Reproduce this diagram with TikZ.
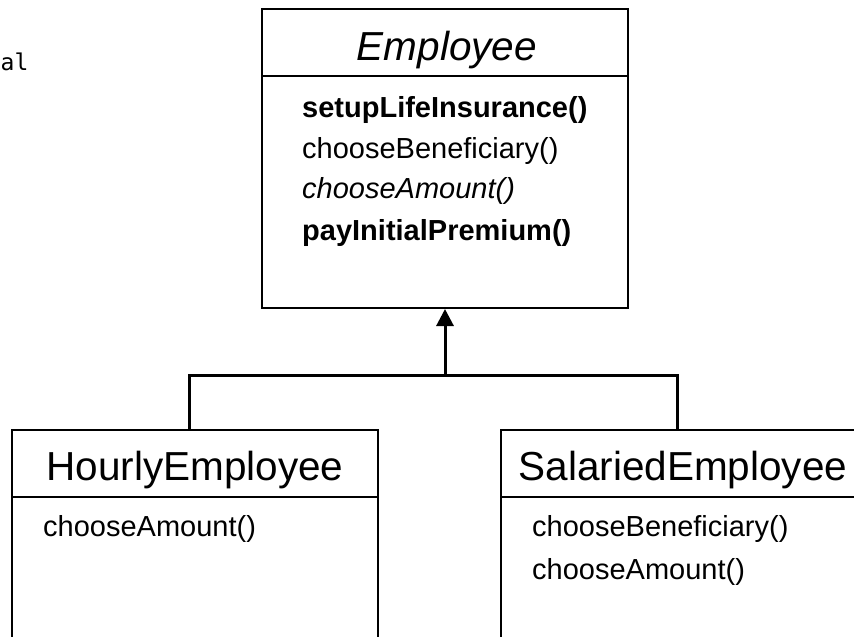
\documentclass[tikz,border=0pt]{standalone}
\usepackage{fontspec}
\setmainfont{Liberation Sans}
\newfontfamily\codefont{DejaVu Sans Mono}
\usetikzlibrary{arrows.meta}

\begin{document}
\begin{tikzpicture}[x=1pt,y=-1pt,
  classbox/.style={draw, line width=2pt, inner sep=0pt},
  divider/.style={line width=2pt},
  classname/.style={font=\fontsize{40.5}{40.5}\selectfont, inner sep=0pt, anchor=base},
  member/.style={font=\fontsize{29}{29}\selectfont, inner sep=0pt, anchor=base west},
  link/.style={line width=3pt, line join=miter},
  inherit/.style={link, -{Triangle[width=17pt,length=17pt]}}
]
\useasboundingbox (0,0) rectangle (854,637);
\clip (0,0) rectangle (854,637);

% code fragment at the top left
\node[font=\codefont\fontsize{23}{23}\selectfont, anchor=base west, inner sep=0pt] (frag) at (0.5,70) {al};

% abstract base class
\node[classbox, minimum width=366pt, minimum height=299pt] (emp) at (445,158.5) {};
\draw[divider] (emp.west |- 0,76) -- (emp.east |- 0,76);
\node[classname, font=\fontsize{40.5}{40.5}\selectfont\itshape] (empname) at (447,60) {Employee};
\node[member, font=\fontsize{29}{29}\selectfont\bfseries] (m1) at (302,117) {setupLifeInsurance()};
\node[member] (m2) at (302,158) {chooseBeneficiary()};
\node[member, font=\fontsize{29}{29}\selectfont\itshape] (m3) at (302,198) {chooseAmount()};
\node[member, font=\fontsize{29}{29}\selectfont\bfseries] (m4) at (302,240) {payInitialPremium()};

% subclasses
\node[classbox, minimum width=366pt, minimum height=290pt] (hourly) at (195,575) {};
\draw[divider] (hourly.west |- 0,497) -- (hourly.east |- 0,497);
\node[classname] (hourlyname) at (195,480) {HourlyEmployee};
\node[member] (h1) at (43,536) {chooseAmount()};

\node[classbox, minimum width=364pt, minimum height=290pt] (sal) at (683,575) {};
\draw[divider] (sal.west |- 0,497) -- (sal.east |- 0,497);
\node[classname] (salname) at (683,480) {SalariedEmployee};
\node[member] (s1) at (532,536) {chooseBeneficiary()};
\node[member] (s2) at (532,579) {chooseAmount()};

% generalization connector
\coordinate (j) at (445,375);
\coordinate (jl) at (189,375);
\coordinate (jr) at (677,375);
\draw[link] (hourly.north -| jl) -- (jl) -- (jr) -- (sal.north -| jr);
\draw[inherit] (j) -- (emp.south);
\end{tikzpicture}
\end{document}
